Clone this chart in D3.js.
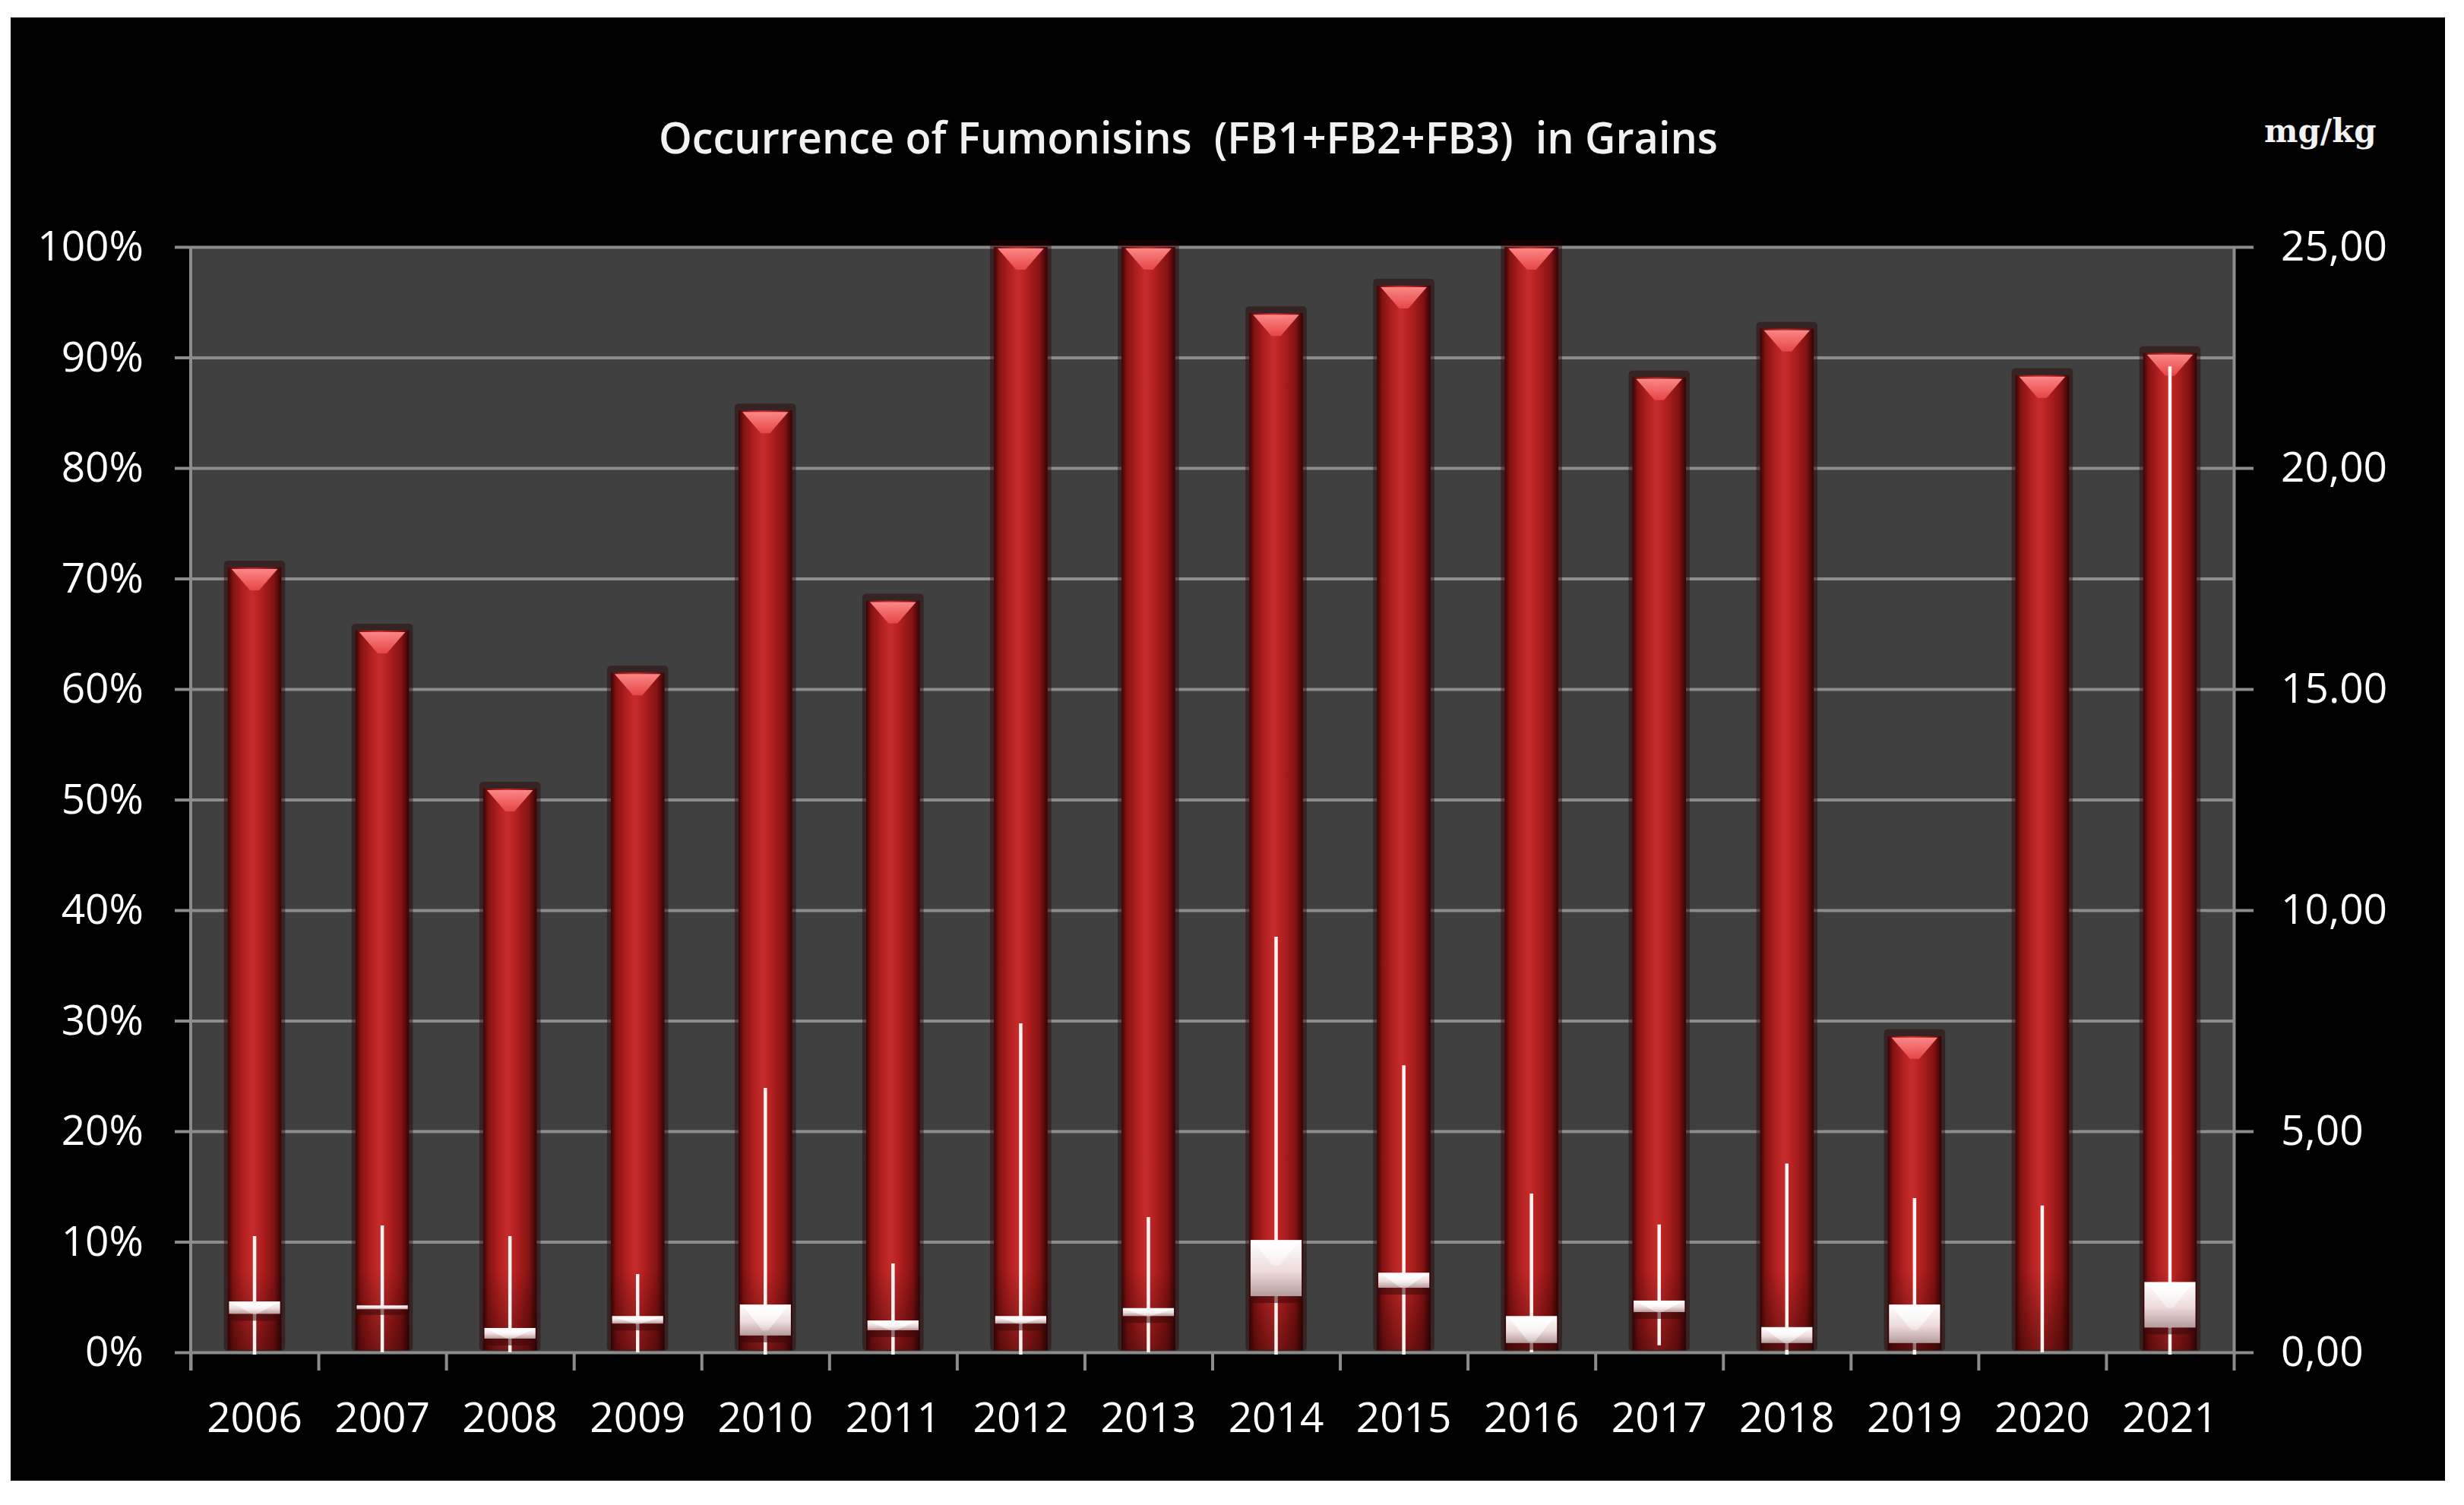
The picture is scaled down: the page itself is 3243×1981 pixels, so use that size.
<!DOCTYPE html>
<html>
<head>
<meta charset="utf-8">
<script src="https://cdn.jsdelivr.net/npm/d3@7"></script>
<style>
  body { margin: 0; background: #ffffff; }
  svg { display: block; }
</style>
</head>
<body>
<div id="chart"></div>
<script>
// Data
const years = ["2006","2007","2008","2009","2010","2011","2012","2013","2014","2015","2016","2017","2018","2019","2020","2021"];
// occurrence, % of positive samples (left axis)
const occurrencePct = [71, 65.3, 51, 61.5, 85.2, 68, 100, 100, 94, 96.5, 100, 88.2, 92.6, 28.6, 88.4, 90.4];
// concentration in mg/kg (right axis): whisker low/high and box bounds
const levelMax = [2.63, 2.87, 2.63, 1.77, 5.98, 2.01, 7.44, 3.06, 9.40, 6.49, 3.59, 2.89, 4.27, 3.49, 3.32, 22.3];
const levelMin = [0, 0.05, 0.05, 0.05, 0, 0, 0, 0.05, 0, 0, 0.05, 0.21, 0, 0, 0.05, 0];
const boxHigh  = [1.15, 1.06, 0.55, 0.82, 1.08, 0.72, 0.82, 1.00, 2.54, 1.80, 0.82, 1.17, 0.57, 1.08, null, 1.59];
const boxLow   = [0.87, 1.00, 0.31, 0.65, 0.38, 0.50, 0.65, 0.82, 1.27, 1.46, 0.21, 0.91, 0.21, 0.21, null, 0.56];

const pctTicks = [0, 10, 20, 30, 40, 50, 60, 70, 80, 90, 100];
const mgTicks = [0, 5, 10, 15, 20, 25];
const mgTickLabels = ["0,00", "5,00", "10,00", "15.00", "20,00", "25,00"];

const W = 3243, H = 1981;
const plot = { left: 251, right: 2940, top: 325, bottom: 1780 };

const svg = d3.select("#chart").append("svg")
  .attr("width", W)
  .attr("height", H);

const defs = svg.append("defs");

function gradient(id, vertical, stops) {
  const g = defs.append("linearGradient")
    .attr("id", id)
    .attr("x1", 0).attr("y1", 0)
    .attr("x2", vertical ? 0 : 1).attr("y2", vertical ? 1 : 0);
  stops.forEach(([o, c, a]) => g.append("stop")
    .attr("offset", o)
    .attr("stop-color", c)
    .attr("stop-opacity", a === undefined ? 1 : a));
}

// cylinder look for the bars
gradient("cyl", false, [[0, "#3a0505"], [0.1, "#851313"], [0.3, "#b42121"], [0.45, "#c52c2b"],
  [0.62, "#b32020"], [0.86, "#831212"], [1, "#330404"]]);
gradient("barBase", true, [[0, "#200000", 0], [1, "#200000", 0.45]]);
gradient("capTop", true, [[0, "#ff8c8c"], [1, "#e84848"]]);
gradient("boxFill", true, [[0, "#ffffff"], [0.55, "#eedcdc"], [1, "#b59c9c"]]);
gradient("boxCap", true, [[0, "#ffffff"], [1, "#ffffff", 0.3]]);

// outer frame
svg.append("rect")
  .attr("x", 14).attr("y", 23)
  .attr("width", 3204).attr("height", 1926)
  .attr("fill", "#000000");

// plot background
svg.append("rect")
  .attr("x", plot.left).attr("y", plot.top)
  .attr("width", plot.right - plot.left)
  .attr("height", plot.bottom - plot.top)
  .attr("fill", "#404040");

// scales
const x = d3.scaleBand()
  .domain(years)
  .range([plot.left, plot.right])
  .paddingInner(0).paddingOuter(0);

const xEdge = d3.scaleLinear()
  .domain([0, years.length])
  .range([plot.left, plot.right]);

const yPct = d3.scaleLinear().domain([0, 100]).range([plot.bottom, plot.top]);
const yMg = d3.scaleLinear().domain([0, 25]).range([plot.bottom, plot.top]);

const gridColor = "#8c8c8c";
const labelFont = "'Open Sans', 'DejaVu Sans', sans-serif";

// left axis: gridlines + ticks + labels in one go
const leftAxis = svg.append("g")
  .attr("transform", `translate(${plot.right},0)`)
  .call(d3.axisLeft(yPct)
    .tickValues(pctTicks)
    .tickSize(plot.right - 230)
    .tickPadding(41)
    .tickFormat(d => d + "%"));
leftAxis.select(".domain").remove();
leftAxis.selectAll(".tick line")
  .attr("stroke", gridColor)
  .attr("stroke-width", 4);
leftAxis.selectAll(".tick text")
  .attr("fill", "#ffffff")
  .attr("font-family", labelFont)
  .attr("font-size", 55);

// left axis line
svg.append("line")
  .attr("x1", plot.left).attr("x2", plot.left)
  .attr("y1", plot.top).attr("y2", plot.bottom + 24)
  .attr("stroke", gridColor)
  .attr("stroke-width", 4);

// right axis (mg/kg)
const rightAxis = svg.append("g")
  .attr("transform", `translate(${plot.right},0)`)
  .call(d3.axisRight(yMg)
    .tickValues(mgTicks)
    .tickSizeInner(26)
    .tickSizeOuter(0)
    .tickPadding(36)
    .tickFormat((d, i) => mgTickLabels[i]));
rightAxis.select(".domain")
  .attr("stroke", gridColor)
  .attr("stroke-width", 4);
rightAxis.selectAll(".tick line")
  .attr("stroke", gridColor)
  .attr("stroke-width", 4);
rightAxis.selectAll(".tick text")
  .attr("fill", "#ffffff")
  .attr("font-family", labelFont)
  .attr("font-size", 55);

// category boundary ticks under the x axis
const edgeAxis = svg.append("g")
  .attr("transform", `translate(0,${plot.bottom})`)
  .call(d3.axisBottom(xEdge)
    .tickValues(d3.range(years.length + 1))
    .tickSize(24)
    .tickFormat(""));
edgeAxis.select(".domain").remove();
edgeAxis.selectAll(".tick line")
  .attr("stroke", gridColor)
  .attr("stroke-width", 4);

// year labels
const xAxis = svg.append("g")
  .attr("transform", `translate(0,${plot.bottom})`)
  .call(d3.axisBottom(x).tickSize(0).tickPadding(66));
xAxis.select(".domain").remove();
xAxis.selectAll(".tick text")
  .attr("fill", "#ffffff")
  .attr("font-family", labelFont)
  .attr("font-size", 55);

// bars
const bw = x.bandwidth() * 0.42;
const bars = svg.append("g")
  .selectAll("g")
  .data(years.map((y, i) => ({ year: y, pct: occurrencePct[i] })))
  .join("g");

// dark halo round each bar
bars.append("rect")
  .attr("x", d => x(d.year) + x.bandwidth() / 2 - bw / 2 - 5)
  .attr("y", d => yPct(d.pct) - 9)
  .attr("width", bw + 10)
  .attr("height", d => yPct(0) - yPct(d.pct) + 7)
  .attr("rx", 5)
  .attr("fill", "#2a0000")
  .attr("opacity", 0.45);

bars.append("rect")
  .attr("x", d => x(d.year) + x.bandwidth() / 2 - bw / 2)
  .attr("y", d => yPct(d.pct))
  .attr("width", bw)
  .attr("height", d => yPct(0) - yPct(d.pct) - 3)
  .attr("fill", "url(#cyl)");

// darker base of the bars
bars.append("rect")
  .attr("x", d => x(d.year) + x.bandwidth() / 2 - bw / 2)
  .attr("y", d => Math.max(yPct(d.pct), yPct(0) - 110))
  .attr("width", bw)
  .attr("height", d => Math.min(yPct(0) - yPct(d.pct), 110) - 3)
  .attr("fill", "url(#barBase)");

// light top of each cylinder
bars.append("path")
  .attr("d", d => {
    const cx = x(d.year) + x.bandwidth() / 2;
    const t = yPct(d.pct);
    return `M${cx - bw / 2 + 5},${t + 2} L${cx + bw / 2 - 5},${t + 2} L${cx + 6},${t + 30} L${cx - 6},${t + 30} Z`;
  })
  .attr("fill", "url(#capTop)")
  .attr("opacity", 0.95);

// whiskers (mg/kg range)
svg.append("g")
  .selectAll("line")
  .data(years.map((y, i) => ({ year: y, lo: levelMin[i], hi: levelMax[i] })))
  .join("line")
  .attr("x1", d => x(d.year) + x.bandwidth() / 2)
  .attr("x2", d => x(d.year) + x.bandwidth() / 2)
  .attr("y1", d => yMg(d.lo) + 3)
  .attr("y2", d => yMg(d.hi))
  .attr("stroke", "#fff2f2")
  .attr("stroke-width", 4.5);

// boxes
const boxData = years.map((y, i) => ({ year: y, hi: boxHigh[i], lo: boxLow[i] }))
  .filter(d => d.hi !== null);
const bxw = x.bandwidth() * 0.40;
const boxes = svg.append("g")
  .selectAll("g")
  .data(boxData)
  .join("g");

// shadow below box
boxes.append("rect")
  .attr("x", d => x(d.year) + x.bandwidth() / 2 - bxw / 2)
  .attr("y", d => yMg(d.lo))
  .attr("width", bxw)
  .attr("height", 9)
  .attr("fill", "#3a0a0a")
  .attr("opacity", 0.55);

boxes.append("rect")
  .attr("x", d => x(d.year) + x.bandwidth() / 2 - bxw / 2)
  .attr("y", d => yMg(d.hi))
  .attr("width", bxw)
  .attr("height", d => Math.max(yMg(d.lo) - yMg(d.hi), 5))
  .attr("fill", "url(#boxFill)");

boxes.append("path")
  .attr("d", d => {
    const cx = x(d.year) + x.bandwidth() / 2;
    const t = yMg(d.hi);
    const h = Math.min(yMg(d.lo) - t, 34);
    return `M${cx - bxw / 2 + 4},${t + 2} L${cx + bxw / 2 - 4},${t + 2} L${cx + 4},${t + h} L${cx - 4},${t + h} Z`;
  })
  .attr("fill", "url(#boxCap)");

// title (keeps the double spaces of the original)
svg.append("text")
  .attr("x", 1564)
  .attr("y", 202)
  .attr("text-anchor", "middle")
  .attr("textLength", 1394)
  .attr("lengthAdjust", "spacingAndGlyphs")
  .attr("fill", "#f2f2f2")
  .attr("font-family", labelFont)
  .attr("font-size", 58)
  .attr("font-weight", 600)
  .style("white-space", "pre")
  .text("Occurrence of Fumonisins  (FB1+FB2+FB3)  in Grains");

// unit label for right axis
svg.append("text")
  .attr("x", 2980)
  .attr("y", 187)
  .attr("fill", "#f2f2f2")
  .attr("font-family", "'DejaVu Serif', 'Liberation Serif', serif")
  .attr("font-size", 42)
  .attr("font-weight", "bold")
  .text("mg/kg");
</script>
</body>
</html>
